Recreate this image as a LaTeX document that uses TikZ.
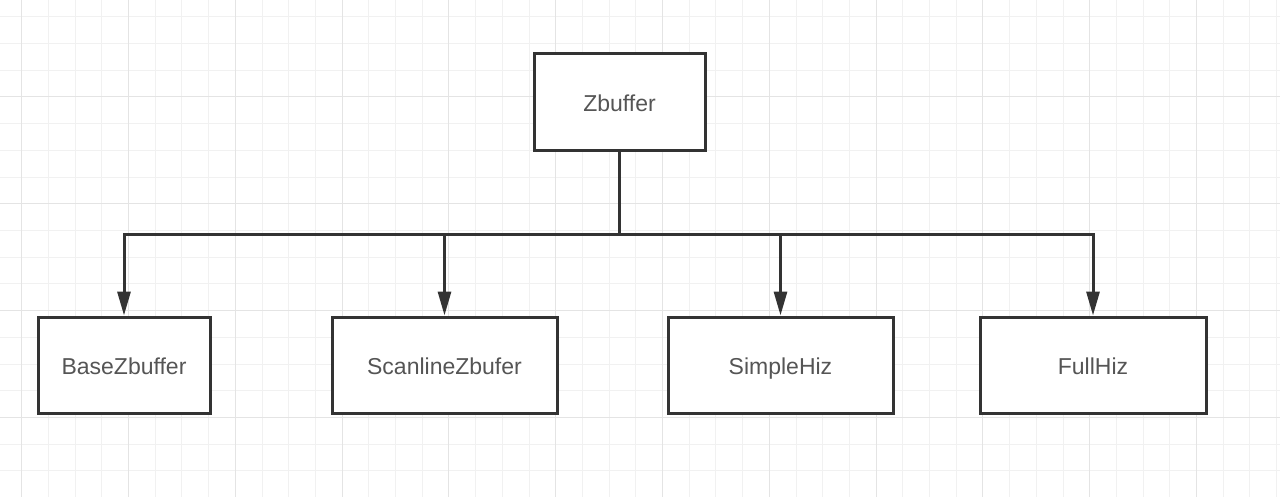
\documentclass[tikz,border=0pt]{standalone}
\usepackage{fontspec}
\setmainfont{Liberation Sans}
\usetikzlibrary{arrows.meta}
\definecolor{gridminor}{HTML}{F1F1F1}
\definecolor{gridmajor}{HTML}{E4E4E4}
\definecolor{linec}{HTML}{333333}
\definecolor{textc}{HTML}{555555}
\tikzset{
  box/.style={draw=linec, line width=3pt, fill=white, rectangle, inner sep=0pt,
    text=textc, font=\fontsize{23}{27}\selectfont, text height=19pt, text depth=0.5pt,
    minimum height=96pt},
  conn/.style={draw=linec, line width=3pt},
  arr/.style={conn, -{Triangle[length=24pt,width=13pt]}}
}
\begin{document}
\begin{tikzpicture}[x=1pt,y=-1pt]
\useasboundingbox (0,0) rectangle (1280,497);
\fill[white] (0,0) rectangle (1280,497);
% grid
\foreach \i in {-1,...,48} {
  \draw[gridminor, line width=1pt] ({21.7+26.7*\i},0) -- ({21.7+26.7*\i},497);
}
\foreach \i in {0,...,19} {
  \draw[gridminor, line width=1pt] (0,{-9.8+26.7*\i}) -- (1280,{-9.8+26.7*\i});
}
\foreach \i in {0,...,12} {
  \draw[gridmajor, line width=1pt] ({21.7+106.8*\i},0) -- ({21.7+106.8*\i},497);
}
\foreach \i in {1,...,5} {
  \draw[gridmajor, line width=1pt] (0,{-9.8+106.8*\i}) -- (1280,{-9.8+106.8*\i});
}
% nodes
\node[box, minimum width=171pt, minimum height=97pt] (top) at (619.5,102.5) {Zbuffer};
\node[box, minimum width=172pt] (b1) at (124,365) {BaseZbuffer};
\node[box, minimum width=225pt] (b2) at (444.5,365) {ScanlineZbufer};
\node[box, minimum width=225pt] (b3) at (780.5,365) {SimpleHiz};
\node[box, minimum width=226pt] (b4) at (1093,365) {FullHiz};
\coordinate (bar) at (619.5,235);
% connectors
\draw[conn] (top.south) -- (bar);
\draw[arr] (bar) -| (b1.north);
\draw[arr] (bar) -| (b2.north);
\draw[arr] (bar) -| (b3.north);
\draw[arr] (bar) -| (b4.north);
\end{tikzpicture}
\end{document}
